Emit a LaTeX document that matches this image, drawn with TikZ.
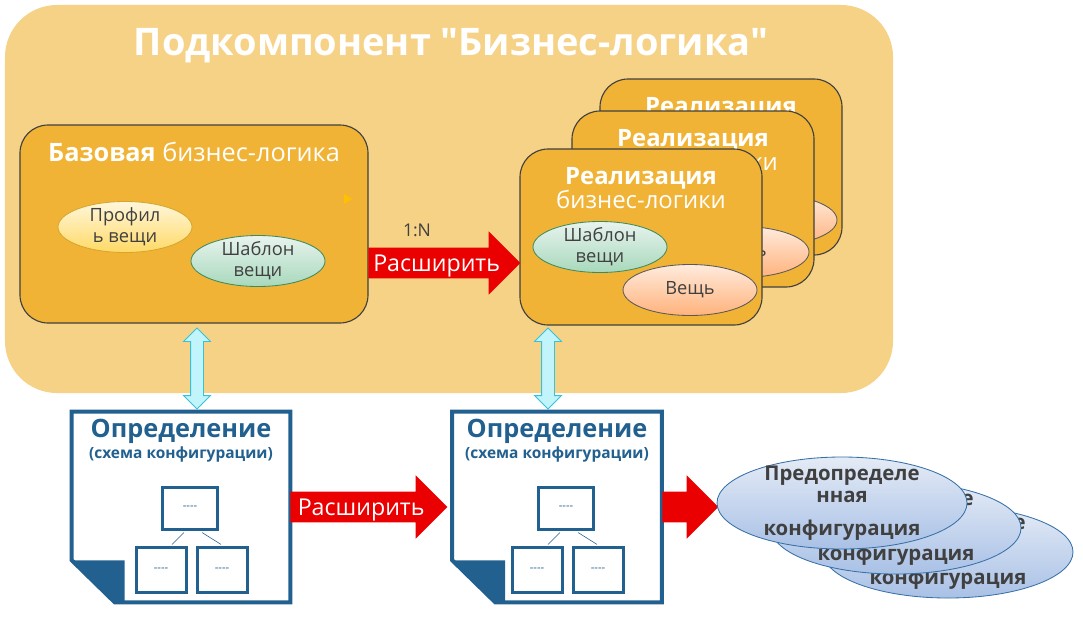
\documentclass[tikz,border=0pt]{standalone}
\usepackage{fontspec}
\setmainfont{Open Sans}
\newfontfamily\plainfont{Open Sans}
\usetikzlibrary{shapes.geometric, shapes.arrows}
\definecolor{compfill}{HTML}{F6D287}
\definecolor{boxfill}{HTML}{F0B336}
\definecolor{boxline}{HTML}{404040}
\definecolor{extred}{HTML}{EA0000}
\definecolor{linkfill}{HTML}{C2F4FC}
\definecolor{linkline}{HTML}{35C3DA}
\definecolor{defblue}{HTML}{22608F}
\definecolor{txtgray}{HTML}{404040}
\definecolor{profline}{HTML}{D4A72C}
\definecolor{proftop}{HTML}{FFF7DC}
\definecolor{profbot}{HTML}{FFD966}
\definecolor{tplline}{HTML}{3D8B5C}
\definecolor{tpltop}{HTML}{E8F4EE}
\definecolor{tplbot}{HTML}{A8D8BB}
\definecolor{thingline}{HTML}{595959}
\definecolor{thingtop}{HTML}{FFEBDD}
\definecolor{thingbot}{HTML}{FFB27B}
\definecolor{cfgline}{HTML}{3570A8}
\definecolor{cfgtop}{HTML}{E4EBF6}
\definecolor{cfgbot}{HTML}{A9C1E6}
\definecolor{marker}{HTML}{FFC000}

\begin{document}
\begin{tikzpicture}[x=0.25mm, y=-0.25mm,
  bizbox/.style={draw=boxline, line width=0.8pt, fill=boxfill, rounded corners=7mm},
  ell/.style={ellipse, draw, line width=0.6pt, inner sep=-3mm, minimum width=33.5mm, minimum height=12.75mm,
    text=txtgray, align=center, font=\fontsize{13}{15}\selectfont},
  profcol/.style={draw=profline, top color=proftop, bottom color=profbot},
  tplcol/.style={draw=tplline, top color=tpltop, bottom color=tplbot},
  thingcol/.style={draw=thingline, top color=thingtop, bottom color=thingbot},
  extarrow/.style={single arrow, fill=extred, draw=none, anchor=tail, single arrow head extend=4.1mm,
    inner xsep=1mm, inner ysep=0pt, text height=5.75mm, text depth=1.75mm, text=white,
    font=\fontsize{16.5}{18}\selectfont},
  linkarrow/.style={double arrow, draw=linkline, fill=linkfill, line width=0.6pt, rotate=90,
    double arrow head extend=1.75mm, inner xsep=0pt, inner ysep=1.5mm, text height=0pt, text depth=0pt,
    minimum height=20.25mm},
  docbox/.style={rectangle, fill=white, minimum height=47.5mm},
  docline/.style={draw=defblue, line width=1mm, line join=miter},
  treebox/.style={draw=defblue, line width=0.75mm, fill=white, text=defblue, font=\plainfont\fontsize{8}{10}\selectfont},
  cfg/.style={ellipse, draw=cfgline, line width=0.6pt, top color=cfgtop, bottom color=cfgbot,
    minimum width=62.5mm, minimum height=23mm, inner sep=-6mm, align=center, text=txtgray,
    font=\fontsize{14.5}{15.6}\selectfont\bfseries},
]
\useasboundingbox (0,0) rectangle (1083,622);

% component
\node[fill=compfill, rounded corners=13mm, minimum width=222mm, minimum height=97mm] (comp) at (449,199) {};
\node[white, font=\plainfont\fontsize{27}{30}\selectfont\bfseries] (compt) at (451,46) {Подкомпонент "Бизнес-логика"};

% base business logic
\node[bizbox, minimum width=87mm, minimum height=49.5mm] (base) at (194,224) {};
\node[white, font=\fontsize{18}{20}\selectfont] (baset) at (194,152) {\textbf{Базовая} бизнес-логика};
\node[ell, profcol] (prof) at (125,227) {Профил\\ь вещи};
\node[ell, tplcol] (tpl0) at (258,261) {Шаблон\\вещи};
\fill[marker] (344,194) -- (352,199) -- (344,204) -- cycle;

% realizations
\foreach \n/\dx/\dy in {3/80/-70, 2/52/-38, 1/0/0} {
  \begin{scope}[shift={(\dx,\dy)}]
    \node[bizbox, minimum width=60.5mm, minimum height=44mm] (real\n) at (641,237) {};
    \node[white, align=center, font=\fontsize{17}{17}\selectfont] (realt\n) at (641,188) {\textbf{Реализация}\\бизнес-логики};
    \node[ell, tplcol] (tpl\n) at (600,247) {Шаблон\\вещи};
    \node[ell, thingcol] (thing\n) at (690,290) {Вещь};
  \end{scope}
}

\node[extarrow, minimum height=38mm] (ext1) at (368,263) {Расширить};
\node[text=txtgray, font=\fontsize{12.5}{14}\selectfont] (card) at (417,230) {1:N};

% links to definitions
\node[linkarrow] (link1) at (197,368.5) {};
\node[linkarrow] (link2) at (548,368.5) {};

% definitions
\foreach \d/\cx/\w in {1/181/54.5mm, 2/557/52.25mm} {
  \node[docbox, minimum width=\w] (def\d) at (\cx,507) {};
  \draw[docline] (def\d.north west) -- (def\d.north east) -- (def\d.south east)
    -- ([xshift=10.75mm]def\d.south west) -- ([yshift=10.5mm]def\d.south west) -- cycle;
  \fill[defblue] ([yshift=10.5mm]def\d.south west) -- ([xshift=13.25mm,yshift=10.5mm]def\d.south west)
    -- ([xshift=13.25mm]def\d.south west) -- ([xshift=10.75mm]def\d.south west) -- cycle;
  \node[text=defblue, font=\fontsize{18}{20}\selectfont\bfseries] (deft\d) at (\cx,431) {Определение};
  \node[text=defblue, font=\fontsize{11}{12}\selectfont\bfseries] (defs\d) at (\cx,454) {(схема конфигурации)};
  \node[treebox, minimum width=13.75mm, minimum height=10.5mm] (top\d) at (\cx+9,508) {----};
  \node[treebox, minimum width=12.5mm, minimum height=11.25mm] (left\d) at (\cx-20,570) {----};
  \node[treebox, minimum width=12.5mm, minimum height=11.25mm] (right\d) at (\cx+41,570) {----};
  \draw[defblue, line width=0.4pt] ([xshift=-1.5mm,yshift=-0.5mm]top\d.south) -- ([xshift=2.75mm,yshift=0.4mm]left\d.north);
  \draw[defblue, line width=0.4pt] ([xshift=3mm,yshift=-0.5mm]top\d.south) -- ([xshift=-0.25mm,yshift=0.4mm]right\d.north);
}

\node[extarrow, minimum height=39.25mm] (ext2) at (290,507) {Расширить};
\node[extarrow, minimum height=14mm] (ext3) at (662,507) {};

% predefined configurations
\foreach \n/\cx/\cy in {3/948/552, 2/896/528, 1/842/503} {
  \node[cfg] (cfg\n) at (\cx,\cy) {Предопределе\\нная\\[8pt]конфигурация};
}
\end{tikzpicture}
\end{document}
